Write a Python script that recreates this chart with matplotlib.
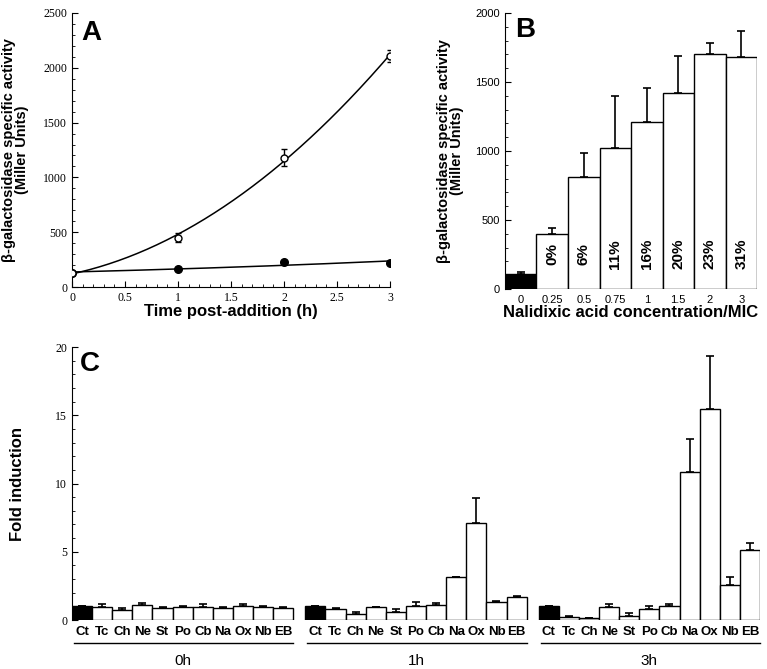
import numpy as np
import matplotlib
matplotlib.use("Agg")
import matplotlib.pyplot as plt
from matplotlib.ticker import MultipleLocator
import matplotlib.transforms as mtransforms

# --- panel A: time course ---
time_h = [0, 1, 2, 3]
open_vals = [130, 450, 1180, 2110]
open_err = [20, 40, 80, 55]
filled_vals = [130, 165, 230, 215]

# --- panel B: nalidixic acid dose ---
mic_labels = ["0", "0.25", "0.5", "0.75", "1", "1.5", "2", "3"]
mic_vals = [110, 395, 810, 1025, 1210, 1420, 1705, 1680]
mic_err = [10, 50, 175, 375, 250, 265, 80, 190]
kill_pct = ["", "0%", "6%", "11%", "16%", "20%", "23%", "31%"]

# --- panel C: fold induction ---
drugs = ["Ct", "Tc", "Ch", "Ne", "St", "Po", "Cb", "Na", "Ox", "Nb", "EB"]
groups = ["0h", "1h", "3h"]
fold_0h = [1.0, 0.97, 0.75, 1.13, 0.85, 0.95, 0.95, 0.88, 1.0, 0.93, 0.9]
err_0h = [0.0, 0.17, 0.15, 0.12, 0.07, 0.1, 0.25, 0.1, 0.15, 0.08, 0.08]
fold_1h = [1.0, 0.78, 0.44, 0.92, 0.58, 1.02, 1.08, 3.12, 7.1, 1.3, 1.72]
err_1h = [0.0, 0.07, 0.12, 0.06, 0.2, 0.28, 0.2, 0.05, 1.85, 0.1, 0.06]
fold_3h = [1.0, 0.22, 0.12, 0.95, 0.3, 0.83, 1.0, 10.85, 15.45, 2.6, 5.15]
err_3h = [0.0, 0.1, 0.05, 0.2, 0.25, 0.22, 0.2, 2.45, 3.9, 0.55, 0.5]

SERIF = "Liberation Serif"
SANS = "Liberation Sans"

fig = plt.figure(figsize=(7.67, 6.69), dpi=100)

# ---------------- A ----------------
axA = fig.add_axes([0.0939, 0.571, 0.4146, 0.4096])
t = np.array(time_h, dtype=float)
xs = np.linspace(0, 3, 200)
# smooth fitted curves through the points
fit_open = np.polyfit(t, open_vals, 2)
axA.plot(xs, np.polyval(fit_open, xs), color="black", lw=1.1)
fit_fill = np.polyfit(t, np.log(filled_vals), 1)
axA.plot(xs, np.exp(np.polyval(fit_fill, xs)), color="black", lw=1.1)
axA.errorbar(t, open_vals, yerr=open_err, fmt="o", mfc="white", mec="black",
             ms=5, color="black", capsize=2.5, elinewidth=1, mew=1, zorder=3)
axA.plot(t, filled_vals, "o", color="black", ms=5.5, zorder=3)
axA.set_xlim(0, 3)
axA.set_ylim(0, 2500)
axA.xaxis.set_minor_locator(MultipleLocator(0.1))
axA.yaxis.set_minor_locator(MultipleLocator(100))
axA.set_xticks([0, 0.5, 1, 1.5, 2, 2.5, 3])
axA.set_xticklabels(["0", "0.5", "1", "1.5", "2", "2.5", "3"])
axA.set_yticks([0, 500, 1000, 1500, 2000, 2500])
axA.set_yticklabels(["0", "500", "1000", "1500", "2000", "2500"])
axA.tick_params(which="both", direction="in", labelsize=8.5)
axA.tick_params(which="major", length=4)
axA.tick_params(which="minor", length=2)
for lab in axA.get_xticklabels() + axA.get_yticklabels():
    lab.set_fontfamily(SERIF)
for s in ["top", "right"]:
    axA.spines[s].set_visible(False)
axA.set_xlabel("Time post-addition (h)", fontsize=12, fontweight="bold",
               family=SANS, labelpad=0)
axA.set_ylabel("β-galactosidase specific activity\n(Miller Units)", fontsize=10.5,
               fontweight="bold", family=SANS, labelpad=10, linespacing=0.95)
axA.text(0.03, 0.975, "A", transform=axA.transAxes, fontsize=20,
         fontweight="bold", family=SANS, va="top", ha="left")

# ---------------- B ----------------
axB = fig.add_axes([0.6584, 0.568, 0.3286, 0.4126])
xb = np.arange(len(mic_vals))
colsB = ["black"] + ["white"] * (len(mic_vals) - 1)
axB.bar(xb, mic_vals, width=1.0, color=colsB, edgecolor="black", lw=1)
axB.errorbar(xb, mic_vals, yerr=[np.zeros(len(mic_err)), mic_err], fmt="none",
             ecolor="black", capsize=3, elinewidth=1.2, capthick=1.2)
for i, p in enumerate(kill_pct):
    if p:
        axB.text(xb[i], 255, p, rotation=90, ha="center", va="center",
                 fontsize=11, fontweight="bold", family=SANS)
axB.set_xlim(-0.5, len(mic_vals) - 0.5)
axB.set_ylim(0, 2000)
axB.set_xticks(xb)
axB.set_xticklabels(mic_labels, family=SANS, fontsize=8)
axB.yaxis.set_minor_locator(MultipleLocator(100))
axB.set_yticks([0, 500, 1000, 1500, 2000])
axB.set_yticklabels(["0", "500", "1000", "1500", "2000"], family=SANS, fontsize=8)
axB.tick_params(axis="x", length=0, pad=4)
axB.tick_params(axis="y", which="both", direction="in")
axB.tick_params(axis="y", which="major", length=4)
axB.tick_params(axis="y", which="minor", length=2)
for s in ["top", "right", "bottom"]:
    axB.spines[s].set_visible(False)
axB.set_xlabel("Nalidixic acid concentration/MIC", fontsize=12,
               fontweight="bold", family=SANS, labelpad=0.5)
axB.set_ylabel("β-galactosidase specific activity\n(Miller Units)", fontsize=10.5,
               fontweight="bold", family=SANS, labelpad=8, linespacing=0.95)
axB.text(0.04, 0.985, "B", transform=axB.transAxes, fontsize=20,
         fontweight="bold", family=SANS, va="top", ha="left")

# ---------------- C ----------------
axC = fig.add_axes([0.0939, 0.0732, 0.897, 0.408])
group_vals = [fold_0h, fold_1h, fold_3h]
group_errs = [err_0h, err_1h, err_3h]
n = len(drugs)
step = n + 0.6
ticks, ticklabels = [], []
blend = mtransforms.blended_transform_factory(axC.transData, axC.transAxes)
for g, (vals, errs) in enumerate(zip(group_vals, group_errs)):
    start = g * step
    xc = start + np.arange(n) + 0.5
    cols = ["black"] + ["white"] * (n - 1)
    axC.bar(xc, vals, width=1.0, color=cols, edgecolor="black", lw=1)
    axC.errorbar(xc, vals, yerr=[np.zeros(n), errs], fmt="none", ecolor="black",
                 capsize=3, elinewidth=1.2, capthick=1.2)
    ticks.extend(xc)
    ticklabels.extend(drugs)
    # group underline and time label
    axC.plot([start + 0.1, start + n], [-0.085, -0.085], color="black", lw=1,
             transform=blend, clip_on=False)
    axC.text(start + n / 2, -0.15, groups[g], transform=blend, ha="center",
             va="center", fontsize=11, family=SANS)
axC.set_xlim(0, 2 * step + n)
axC.set_ylim(0, 20)
axC.set_xticks(ticks)
axC.set_xticklabels(ticklabels, fontsize=9.5, fontweight="bold", family=SANS)
axC.tick_params(axis="x", length=0, pad=4)
axC.yaxis.set_minor_locator(MultipleLocator(1))
axC.set_yticks([0, 5, 10, 15, 20])
axC.set_yticklabels(["0", "5", "10", "15", "20"], family=SERIF, fontsize=8.5)
axC.tick_params(axis="y", which="both", direction="in")
axC.tick_params(axis="y", which="major", length=4)
axC.tick_params(axis="y", which="minor", length=2)
for s in ["top", "right", "bottom"]:
    axC.spines[s].set_visible(False)
axC.set_ylabel("Fold induction", fontsize=12, fontweight="bold", family=SANS,
               labelpad=22)
axC.text(0.012, 0.985, "C", transform=axC.transAxes, fontsize=20,
         fontweight="bold", family=SANS, va="top", ha="left")

fig.savefig("out.png", dpi=100)
